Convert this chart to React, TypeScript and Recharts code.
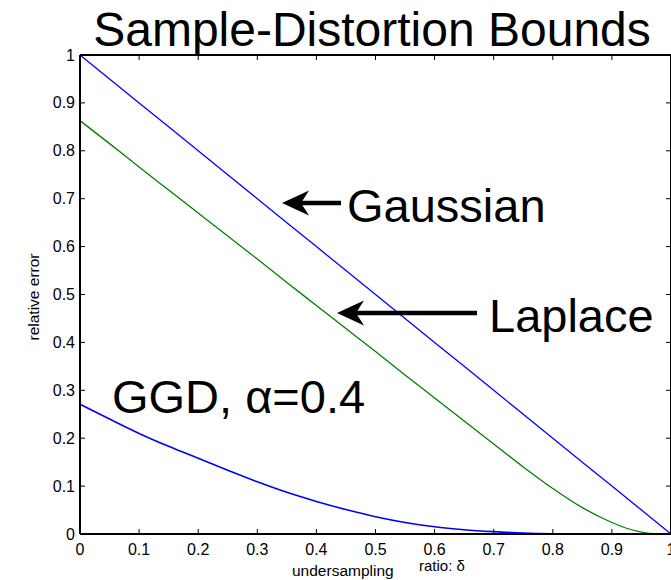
import React from "react";
import { LineChart, Line, XAxis, YAxis, ReferenceLine } from "recharts";

// ---- data ----
const deltas = [0, 0.05, 0.1, 0.15, 0.2, 0.25, 0.3, 0.35, 0.4, 0.45, 0.5, 0.55, 0.6, 0.65, 0.7, 0.75, 0.8, 0.85, 0.9, 0.925, 0.95, 0.975, 1];
const gaussian = [1, 0.95, 0.9, 0.85, 0.8, 0.75, 0.7, 0.65, 0.6, 0.55, 0.5, 0.45, 0.4, 0.35, 0.3, 0.25, 0.2, 0.15, 0.1, 0.075, 0.05, 0.025, 0];
const laplace = [0.863, 0.815, 0.766, 0.718, 0.67, 0.622, 0.574, 0.525, 0.477, 0.429, 0.381, 0.332, 0.284, 0.236, 0.188, 0.14, 0.095, 0.055, 0.024, 0.012, 0.004, 0.0005, 0];
const ggd = [0.271, 0.24, 0.21, 0.183, 0.158, 0.133, 0.109, 0.087, 0.068, 0.051, 0.036, 0.024, 0.015, 0.009, 0.005, 0.002, 0.0005, 0, 0, 0, 0, 0, 0];
const xTicks = [0, 0.1, 0.2, 0.3, 0.4, 0.5, 0.6, 0.7, 0.8, 0.9, 1];
const yTicks = [0, 0.1, 0.2, 0.3, 0.4, 0.5, 0.6, 0.7, 0.8, 0.9, 1];
const titleText = "Sample-Distortion Bounds";
const xLabelA = "undersampling";
const xLabelB = "ratio: \u03B4";
const yLabel = "relative error";
const annGaussian = "Gaussian";
const annLaplace = "Laplace";
const annGGD = "GGD, \u03B1=0.4";

const rows = deltas.map((d, i) => ({ x: d, gaussian: gaussian[i], laplace: laplace[i], ggd: ggd[i] }));

// ---- layout ----
const W = 671;
const H = 580;
const M = { top: 55, right: 0, bottom: 45, left: 79 };
const PLOT_TOP = M.top;
const PLOT_RIGHT = W - M.right;
const FONT = "'Liberation Sans', Arial, Helvetica, sans-serif";
const TICK_LEN = 5;

const XTick = (props: any) => {
  const { x, y, payload } = props;
  return (
    <g>
      <line x1={x} y1={y} x2={x} y2={y - TICK_LEN} stroke="#000" strokeWidth={1} />
      <line x1={x} y1={PLOT_TOP} x2={x} y2={PLOT_TOP + TICK_LEN} stroke="#000" strokeWidth={1} />
      <text x={x} y={y + 21} textAnchor="middle" fontSize={16} fontFamily={FONT} fill="#000">
        {String(payload.value)}
      </text>
    </g>
  );
};

const YTick = (props: any) => {
  const { x, y, payload } = props;
  return (
    <g>
      <line x1={x} y1={y} x2={x + TICK_LEN} y2={y} stroke="#000" strokeWidth={1} />
      <line x1={PLOT_RIGHT} y1={y} x2={PLOT_RIGHT - TICK_LEN} y2={y} stroke="#000" strokeWidth={1} />
      <text x={x - 5} y={y + 5.5} textAnchor="end" fontSize={16} fontFamily={FONT} fill="#000">
        {String(payload.value)}
      </text>
    </g>
  );
};

const Arrow = ({ tipX, y, tailX }: { tipX: number; y: number; tailX: number }) => (
  <g>
    <line x1={tipX + 16} y1={y} x2={tailX} y2={y} stroke="#000" strokeWidth={4.5} />
    <path
      d={`M ${tipX} ${y} L ${tipX + 27} ${y - 12.5} L ${tipX + 19} ${y} L ${tipX + 27} ${y + 12.5} Z`}
      fill="#000"
    />
  </g>
);

export default function App() {
  return (
    <div style={{ position: "absolute", left: 0, top: 0, width: W, height: H, background: "#fff" }}>
      <LineChart width={W} height={H} data={rows} margin={M}>
        <XAxis
          dataKey="x"
          type="number"
          domain={[0, 1]}
          ticks={xTicks}
          interval={0}
          height={1}
          tickSize={0}
          tickMargin={0}
          tickLine={false}
          tick={<XTick />}
          axisLine={{ stroke: "#000", strokeWidth: 2 }}
        />
        <YAxis
          type="number"
          domain={[0, 1]}
          ticks={yTicks}
          interval={0}
          width={1}
          tickSize={0}
          tickMargin={0}
          tickLine={false}
          tick={<YTick />}
          axisLine={{ stroke: "#000", strokeWidth: 2 }}
        />
        <ReferenceLine y={1} stroke="#000" strokeWidth={2} ifOverflow="visible" />
        <ReferenceLine x={1} stroke="#000" strokeWidth={2} ifOverflow="visible" />
        <Line dataKey="gaussian" type="linear" stroke="#0000ff" strokeWidth={1.3} dot={false} isAnimationActive={false} />
        <Line dataKey="laplace" type="monotone" stroke="#008000" strokeWidth={1.3} dot={false} isAnimationActive={false} />
        <Line dataKey="ggd" type="monotone" stroke="#0000ff" strokeWidth={1.6} dot={false} isAnimationActive={false} />
      </LineChart>
      <svg
        width={W}
        height={H}
        style={{ position: "absolute", left: 0, top: 0, pointerEvents: "none" }}
        fontFamily={FONT}
      >
        <text x={372} y={46} textAnchor="middle" fontSize={48} fill="#000">{titleText}</text>
        <Arrow tipX={282} y={203} tailX={341} />
        <text x={347} y={222} fontSize={47} fill="#000">{annGaussian}</text>
        <Arrow tipX={337} y={313} tailX={477} />
        <text x={489} y={332} fontSize={47} fill="#000">{annLaplace}</text>
        <text x={112} y={413} fontSize={47} fill="#000">{annGGD}</text>
        <text x={292} y={576} fontSize={15.5} fill="#000">{xLabelA}</text>
        <text x={419} y={571} fontSize={15} fill="#000">{xLabelB}</text>
        <text x={0} y={0} transform="translate(39 297) rotate(-90)" textAnchor="middle" fontSize={15.5} fill="#000">
          {yLabel}
        </text>
      </svg>
    </div>
  );
}
